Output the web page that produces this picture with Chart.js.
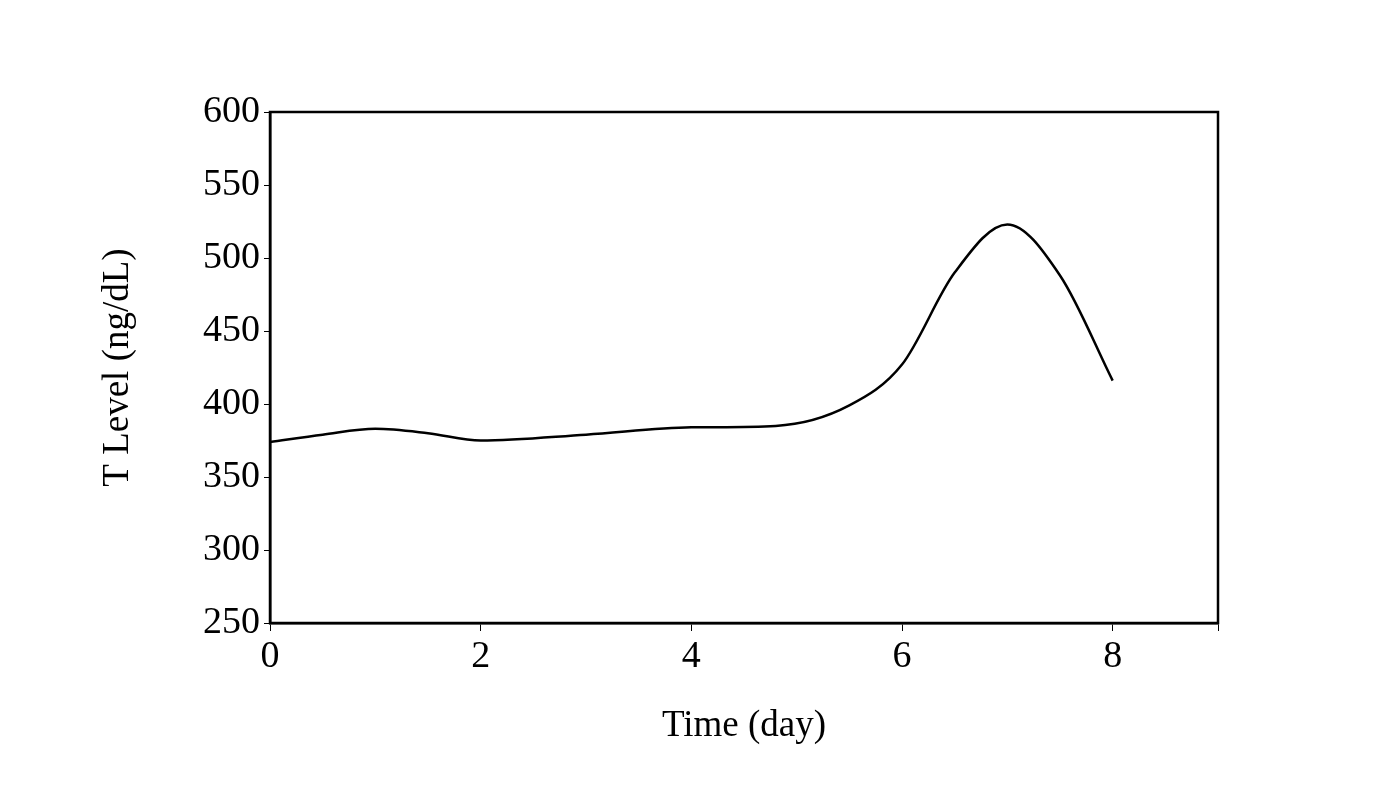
<!DOCTYPE html>
<html>
<head>
<meta charset="utf-8">
<script src="https://cdn.jsdelivr.net/npm/chart.js"></script>
<style>
  html, body { margin: 0; background: #fff; }
  #wrap { width: 1374px; height: 792px; }
</style>
</head>
<body>
<div id="wrap"><canvas id="c"></canvas></div>
<script>
// curve
const days = [0, 0.5, 1, 1.5, 2, 3, 4, 4.8, 5.5, 6, 6.5, 7, 7.5, 8];
const tLevel = [374, 379, 383, 380, 375, 379, 384, 385, 399, 427, 490, 523, 488, 416];
const yTicks = [250, 300, 350, 400, 450, 500, 550, 600];

const serif = "'Liberation Serif', 'DejaVu Serif', serif";

const boxPlugin = {
  id: 'box',
  afterDraw(chart) {
    const a = chart.chartArea, ctx = chart.ctx;
    ctx.save();
    ctx.strokeStyle = '#000';
    ctx.lineWidth = 2.5;
    ctx.strokeRect(a.left, a.top, a.right - a.left, a.bottom - a.top);
    ctx.restore();
  }
};

new Chart(document.getElementById('c'), {
  type: 'scatter',
  data: {
    datasets: [{
      data: days.map((d, i) => ({ x: d, y: tLevel[i] })),
      showLine: true,
      borderColor: '#000',
      borderWidth: 2.5,
      pointRadius: 0,
      cubicInterpolationMode: 'monotone'
    }]
  },
  options: {
    animation: false,
    responsive: true,
    maintainAspectRatio: false,
    layout: { padding: { top: 112, right: 156, left: 92, bottom: 40 } },
    plugins: { legend: { display: false }, tooltip: { enabled: false } },
    scales: {
      x: {
        min: 0, max: 9,
        afterFit(s) { s.height = 129; },
        grid: { drawOnChartArea: false, color: '#000', tickLength: 8 },
        border: { color: '#000', width: 2.5 },
        ticks: {
          stepSize: 2, color: '#000', font: { family: serif, size: 38 },
          callback: v => (v % 2 === 0 ? v : '')
        },
        title: { display: true, text: 'Time (day)', color: '#000', font: { family: serif, size: 37 } }
      },
      y: {
        min: 250, max: 600,
        afterFit(s) { s.width = 178; },
        afterBuildTicks(s) { s.ticks = yTicks.map(v => ({ value: v })); },
        grid: { drawOnChartArea: false, color: '#000', tickLength: 6 },
        border: { color: '#000', width: 2.5 },
        ticks: { color: '#000', font: { family: serif, size: 38 }, padding: 4 },
        title: { display: true, text: 'T Level (ng/dL)', color: '#000', font: { family: serif, size: 37 } }
      }
    }
  },
  plugins: [boxPlugin]
});
</script>
</body>
</html>
